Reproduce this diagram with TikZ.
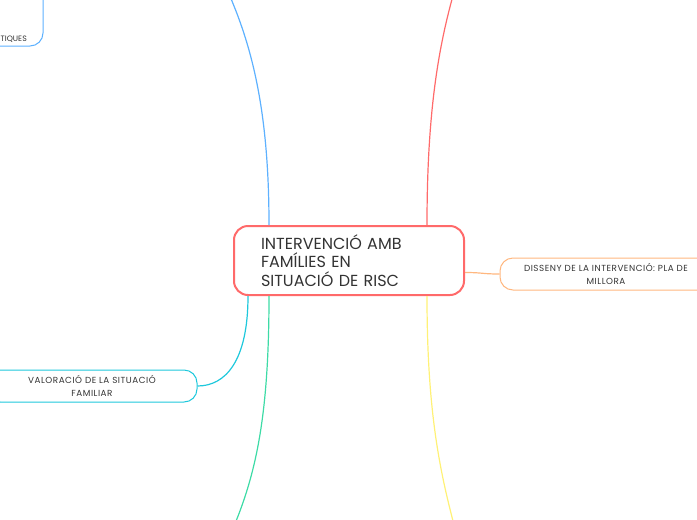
\documentclass[tikz,border=0pt]{standalone}
\usepackage{fontspec}
\setmainfont{Poppins}
\newfontfamily\mmsmall{Poppins}[LetterSpace=6]
\usetikzlibrary{calc}
\definecolor{mmred}{HTML}{FF6A6A}
\definecolor{mmblue}{HTML}{5DB1FF}
\definecolor{mmcyan}{HTML}{1EC8DC}
\definecolor{mmgreen}{HTML}{3DDBA6}
\definecolor{mmyellow}{HTML}{FFF176}
\definecolor{mmorange}{HTML}{FFB77F}
\definecolor{textgray}{HTML}{333333}
\tikzset{
  mainbox/.style={draw=mmred, line width=2pt, rounded corners=14pt,
    minimum width=230pt, minimum height=69pt, text width=176pt,
    inner xsep=27pt, align=left, text=textgray,
    font=\fontsize{16}{18.8}\selectfont},
  subbox/.style={draw=#1, line width=1pt, rounded corners=13pt,
    minimum height=32pt, align=center, text=textgray,
    font=\mmsmall\fontsize{8.8}{12.3}\selectfont},
  smalltext/.style={text=textgray, inner sep=0pt, font=\fontsize{7.8}{12.3}\selectfont},
  link/.style={draw=#1, line width=1.2pt},
}
\begin{document}
\begin{tikzpicture}[x=1pt,y=-1pt]
\useasboundingbox (0,0) rectangle (697,520);
% central topic
\node[mainbox] (main) at (349,260.5) {INTERVENCIÓ AMB\\FAMÍLIES EN\\SITUACIÓ DE RISC};
% sub topics
\node[subbox=mmorange, minimum width=212pt] (pla) at (606,274) {DISSENY DE LA INTERVENCIÓ: PLA DE\\MILLORA};
\node[subbox=mmcyan, minimum width=210pt] (val) at (92,386) {VALORACIÓ DE LA SITUACIÓ\\FAMILIAR};
\node[subbox=mmblue, minimum width=200pt, minimum height=80pt] (prac) at (-57,6) {};
\node[smalltext, anchor=base west] (pracT) at (0.5,41.7) {TIQUES};
% free ends outside the page
\coordinate (upB) at (225,-15);
\coordinate (upR) at (456,-15);
\coordinate (dnG) at (228,540);
\coordinate (dnY) at (458,540);
% connectors
\draw[link=mmblue] ($(main.north west)+(36,0)$) .. controls +(0,-120) and +(25,55) .. (upB);
\draw[link=mmred] ($(main.north west)+(194,0)$) .. controls +(0,-120) and +(-16,55) .. (upR);
\draw[link=mmcyan] ($(main.south west)+(15,0)$) .. controls +(0,65) and +(28,0) .. (val.east);
\draw[link=mmgreen] ($(main.south west)+(36,0)$) .. controls +(0,125) and +(27,-60) .. (dnG);
\draw[link=mmyellow] ($(main.south west)+(194,0)$) .. controls +(0,125) and +(-16,-60) .. (dnY);
\draw[link=mmorange] ($(main.east)+(0,12)$) .. controls +(18,0) and +(-18,0) .. (pla.west);
\end{tikzpicture}
\end{document}
